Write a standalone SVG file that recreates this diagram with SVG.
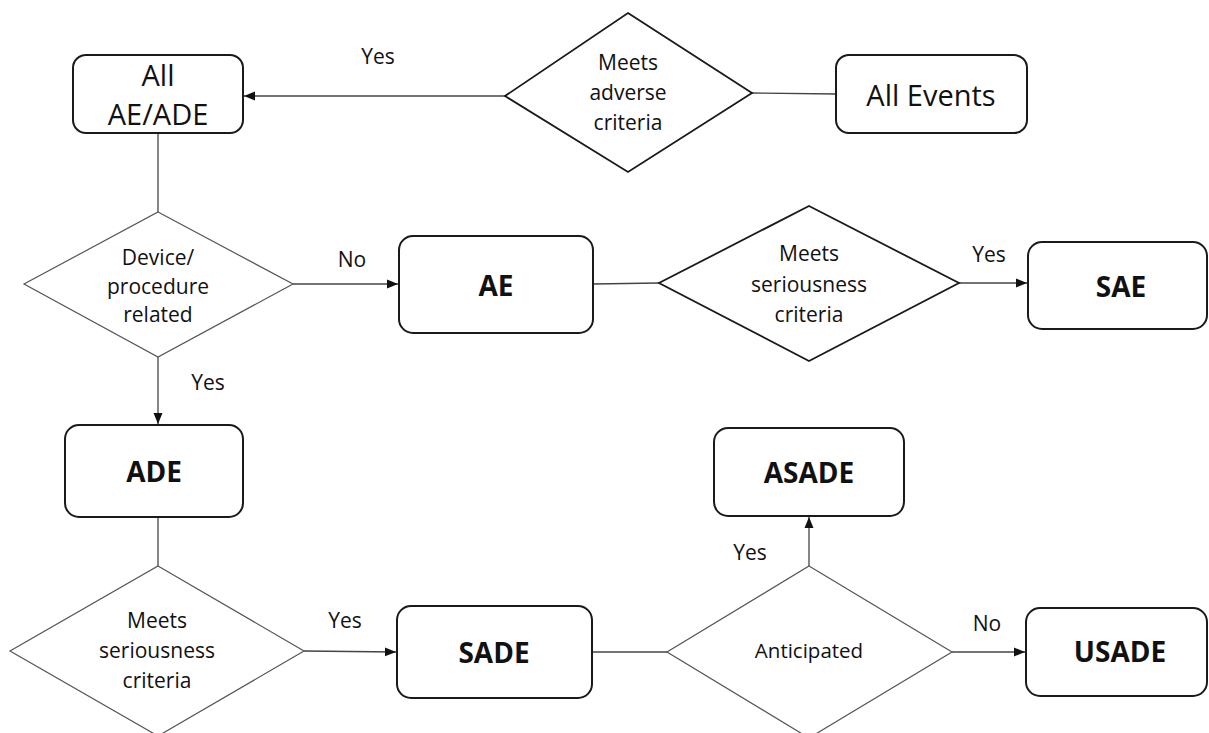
<svg xmlns="http://www.w3.org/2000/svg" width="1209" height="733" viewBox="0 0 1209 733">
<style>
.box{fill:#fff;stroke:#1a1a1a;stroke-width:2}
.dia{fill:#fff;stroke:#555;stroke-width:1.2}
.diab{fill:#fff;stroke:#1a1a1a;stroke-width:1.8}
.con{fill:none;stroke:#444;stroke-width:1.3}
.t{font-family:"Open Sans","Liberation Sans",sans-serif;font-size:21px;fill:#111;text-anchor:middle}
.tb{font-family:"Open Sans","Liberation Sans",sans-serif;font-size:28px;font-weight:bold;fill:#111;text-anchor:middle}
.tl{font-family:"Open Sans","Liberation Sans",sans-serif;font-size:29px;fill:#111;text-anchor:middle}
</style>
<defs>
<marker id="arr" viewBox="0 0 11 10" refX="11" refY="5" markerWidth="11" markerHeight="10" markerUnits="userSpaceOnUse" orient="auto">
<path d="M0,0.5 L11,5 L0,9.5 Z" fill="#111"/>
</marker>
</defs>
<rect width="1209" height="733" fill="#fff"/>
<g id="connectors">
<line class="con" x1="505" y1="96" x2="244" y2="96" marker-end="url(#arr)"/>
<text class="t" x="378" y="64">Yes</text>
<line class="con" x1="752" y1="93" x2="836" y2="94"/>
<line class="con" x1="158" y1="133" x2="158" y2="212"/>
<line class="con" x1="293" y1="284" x2="398" y2="284" marker-end="url(#arr)"/>
<text class="t" x="352" y="267">No</text>
<line class="con" x1="158" y1="357" x2="158" y2="424" marker-end="url(#arr)"/>
<text class="t" x="208" y="390">Yes</text>
<line class="con" x1="593" y1="284" x2="659" y2="283"/>
<line class="con" x1="959" y1="283" x2="1027" y2="283" marker-end="url(#arr)"/>
<text class="t" x="989" y="262">Yes</text>
<line class="con" x1="158" y1="517" x2="158" y2="566"/>
<line class="con" x1="304" y1="651" x2="396" y2="652" marker-end="url(#arr)"/>
<text class="t" x="345" y="628">Yes</text>
<line class="con" x1="592" y1="652" x2="667" y2="652"/>
<line class="con" x1="809" y1="566" x2="809" y2="517" marker-end="url(#arr)"/>
<text class="t" x="750" y="560">Yes</text>
<line class="con" x1="952" y1="652" x2="1025" y2="652" marker-end="url(#arr)"/>
<text class="t" x="987" y="631">No</text>
</g>
<g id="all-ae-ade">
<rect class="box" x="73" y="55" width="170" height="78" rx="13"/>
<text class="tl" x="158" y="86">All</text>
<text class="tl" x="158" y="125">AE/ADE</text>
</g>
<g id="meets-adverse">
<polygon class="diab" points="628,13 752,93 628,172 505,96"/>
<text class="t" x="628" y="70">Meets</text>
<text class="t" x="628" y="100">adverse</text>
<text class="t" x="628" y="130">criteria</text>
</g>
<g id="all-events">
<rect class="box" x="836" y="55" width="191" height="78" rx="13"/>
<text class="tl" x="931" y="106">All Events</text>
</g>
<g id="device-related">
<polygon class="dia" points="158,212 293,284 158,357 24,284"/>
<text class="t" x="158" y="265">Device/</text>
<text class="t" x="158" y="294">procedure</text>
<text class="t" x="158" y="322">related</text>
</g>
<g id="ae">
<rect class="box" x="399" y="236" width="194" height="97" rx="14"/>
<text class="tb" x="496" y="296">AE</text>
</g>
<g id="meets-serious-1">
<polygon class="diab" points="809,206 959,283 809,361 659,283"/>
<text class="t" x="809" y="261">Meets</text>
<text class="t" x="809" y="292">seriousness</text>
<text class="t" x="809" y="322">criteria</text>
</g>
<g id="sae">
<rect class="box" x="1028" y="242" width="179" height="87" rx="14"/>
<text class="tb" x="1121" y="297">SAE</text>
</g>
<g id="ade">
<rect class="box" x="65" y="425" width="178" height="92" rx="14"/>
<text class="tb" x="154" y="482">ADE</text>
</g>
<g id="meets-serious-2">
<polygon class="dia" points="158,566 304,651 158,736 10,651"/>
<text class="t" x="157" y="628">Meets</text>
<text class="t" x="157" y="658">seriousness</text>
<text class="t" x="157" y="688">criteria</text>
</g>
<g id="sade">
<rect class="box" x="397" y="606" width="195" height="92" rx="14"/>
<text class="tb" x="494" y="663">SADE</text>
</g>
<g id="asade">
<rect class="box" x="714" y="428" width="190" height="88" rx="14"/>
<text class="tb" x="809" y="483">ASADE</text>
</g>
<g id="anticipated">
<polygon class="dia" points="809,566 952,652 809,738 667,652"/>
<text class="t" x="809" y="658" style="font-size:20.5px">Anticipated</text>
</g>
<g id="usade">
<rect class="box" x="1026" y="608" width="181" height="88" rx="14"/>
<text class="tb" x="1120" y="662">USADE</text>
</g>
</svg>
